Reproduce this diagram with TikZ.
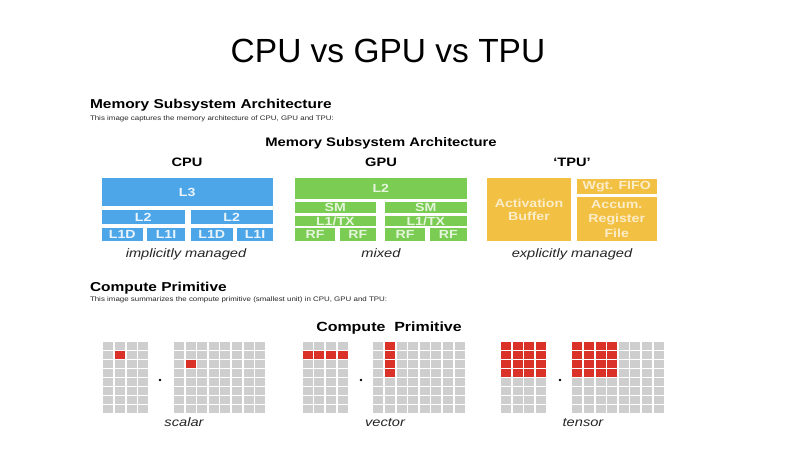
\documentclass[tikz,border=0pt]{standalone}
\usepackage{fontspec}
\setmainfont{Liberation Sans}
\newfontfamily\wf[FakeStretch=1.2]{Liberation Sans}
\definecolor{cpublue}{RGB}{77,166,232}
\definecolor{gpugreen}{RGB}{122,204,82}
\definecolor{tpuyellow}{RGB}{242,192,66}
\definecolor{cellgrey}{RGB}{206,206,206}
\definecolor{cellred}{RGB}{218,50,40}
\newcommand\mybox[7]{%
  \node[#1, minimum width={#5-#3}, minimum height={#6-#4}] (#2) at ({(#3+#5)/2},{(#4+#6)/2}) {#7};}
\newcommand\cellgrid[4]{% name, x0, y0, cols
  \foreach \i in {1,...,#4} \foreach \j in {1,...,8}
    \fill[cellgrey] ({#2+(\i-1)*11.6},{#3+(\j-1)*9}) rectangle ++(10,7.6);
  \coordinate (#1) at (#2,#3);}
\newcommand\redcell[4]{% x0, y0, col, row
  \fill[cellred] ({#1+#3*11.6},{#2+#4*9}) rectangle ++(10,7.6);}
\begin{document}
\begin{tikzpicture}[x=1pt,y=-1pt,
  every node/.style={inner sep=0pt, outer sep=0pt},
  boxtext/.style={font=\wf\bfseries\fontsize{11.8}{12}\selectfont, align=center},
  cbox/.style={boxtext, fill=cpublue, text=white!88!cpublue},
  gbox/.style={boxtext, fill=gpugreen, text=white!80!gpugreen},
  tbox/.style={boxtext, fill=tpuyellow, text=white!72!tpuyellow},
  heading/.style={font=\wf\bfseries\fontsize{12.9}{14}\selectfont, anchor=base west},
  caption/.style={font=\wf\fontsize{6.6}{8}\selectfont, text=black!85, anchor=base west},
  inhead/.style={font=\wf\bfseries\fontsize{12.35}{14}\selectfont, anchor=base},
  colhead/.style={font=\wf\bfseries\fontsize{12.2}{14}\selectfont, anchor=base},
  note/.style={font=\wf\itshape\fontsize{12.2}{14}\selectfont, anchor=base, text=black!85}]
\fill[white] (0,0) rectangle (800,461);
\useasboundingbox (0,0) rectangle (800,461);

\node[font=\fontsize{33.5}{40}\selectfont] (title) at (388,51) {CPU vs GPU vs TPU};

\node[heading] (memhead) at (90,108.3) {Memory Subsystem Architecture};
\node[caption] (memcap) at (90,120.5) {This image captures the memory architecture of CPU, GPU and TPU:};
\node[inhead] (meminner) at (381,146.5) {Memory Subsystem Architecture};

\node[colhead] (cpulab) at (187,166) {CPU};
\node[colhead] (gpulab) at (381,166) {GPU};
\node[colhead] (tpulab) at (572,166) {‘TPU’};

% CPU
\mybox{cbox}{l3}{101.5}{178}{273}{206}{L3}
\mybox{cbox}{l2a}{101.5}{210}{185}{224}{L2}
\mybox{cbox}{l2b}{190.5}{210}{273}{224}{L2}
\mybox{cbox}{l1da}{101.5}{227.7}{143}{240.7}{L1D}
\mybox{cbox}{l1ia}{147}{227.7}{185}{240.7}{L1I}
\mybox{cbox}{l1db}{190.5}{227.7}{233}{240.7}{L1D}
\mybox{cbox}{l1ib}{237}{227.7}{273}{240.7}{L1I}
\node[note] (cpunote) at (186,257) {implicitly managed};

% GPU
\mybox{gbox}{gl2}{295}{178}{466.7}{199.3}{L2}
\mybox{gbox}{sma}{295}{201.7}{375.7}{213.3}{SM}
\mybox{gbox}{smb}{385}{201.7}{466.7}{213.3}{SM}
\mybox{gbox}{l1a}{295}{215.7}{375.7}{226}{L1/TX}
\mybox{gbox}{l1b}{385}{215.7}{466.7}{226}{L1/TX}
\mybox{gbox}{rfa}{295}{228.3}{335}{240.7}{RF}
\mybox{gbox}{rfb}{340}{228.3}{375.7}{240.7}{RF}
\mybox{gbox}{rfc}{385}{228.3}{425}{240.7}{RF}
\mybox{gbox}{rfd}{430}{228.3}{466.7}{240.7}{RF}
\node[note] (gpunote) at (381,257) {mixed};

% TPU
\mybox{tbox, font=\wf\bfseries\fontsize{11.8}{13}\selectfont}{act}{487.3}{178}{570.7}{240.7}{Activation\\Buffer}
\mybox{tbox}{wgt}{576.5}{178.5}{657}{193.8}{Wgt. FIFO}
\mybox{tbox, font=\wf\bfseries\fontsize{11.8}{14.3}\selectfont}{acc}{576.5}{197}{657}{240.7}{Accum.\\Register\\File}
\node[note] (tpunote) at (572,257) {explicitly managed};

% Compute primitive
\node[heading] (cphead) at (90,291) {Compute Primitive};
\node[caption] (cpcap) at (90,301.5) {This image summarizes the compute primitive (smallest unit) in CPU, GPU and TPU:};
\node[inhead, font=\wf\bfseries\fontsize{13.3}{14}\selectfont] (cpinner) at (389,331) {Compute\ \ Primitive};

% scalar
\cellgrid{sa}{103.3}{342.3}{4}
\cellgrid{sb}{174}{342.3}{8}
\redcell{103.3}{342.3}{1}{1}
\redcell{174}{342.3}{1}{2}
\fill (160,380) circle (1.4);
\node[note] (scalarlab) at (184,426) {scalar};

% vector
\cellgrid{va}{302.7}{342.3}{4}
\cellgrid{vb}{373.3}{342.3}{8}
\foreach \c in {0,...,3} {\redcell{302.7}{342.3}{\c}{1}}
\foreach \r in {0,...,3} {\redcell{373.3}{342.3}{1}{\r}}
\fill (361,380) circle (1.4);
\node[note] (vectorlab) at (385,426) {vector};

% tensor
\cellgrid{ta}{501}{342.3}{4}
\cellgrid{tb}{572.3}{342.3}{8}
\foreach \c in {0,...,3} \foreach \r in {0,...,3} {\redcell{501}{342.3}{\c}{\r}}
\foreach \c in {0,...,3} \foreach \r in {0,...,3} {\redcell{572.3}{342.3}{\c}{\r}}
\fill (560,380) circle (1.4);
\node[note] (tensorlab) at (583,426) {tensor};
\end{tikzpicture}
\end{document}
